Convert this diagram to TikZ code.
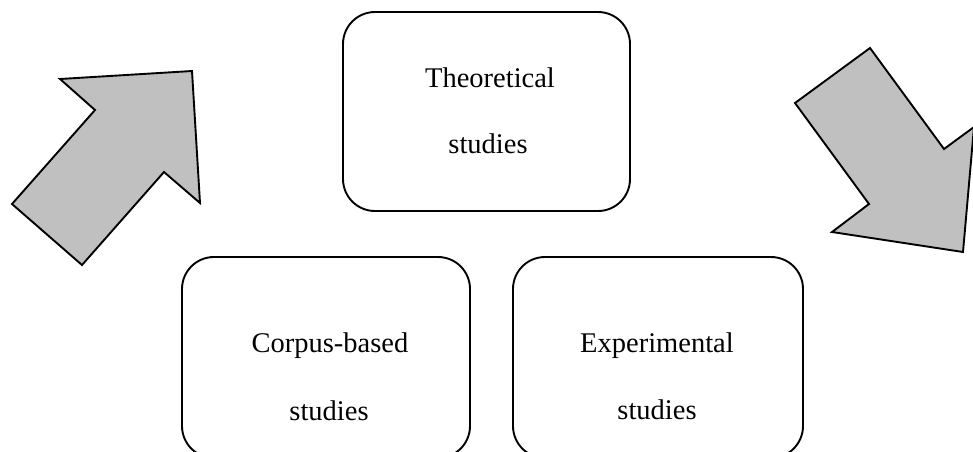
\documentclass[tikz,border=0pt]{standalone}
\usepackage{fontspec}
\setmainfont{Liberation Serif}
\begin{document}
\begin{tikzpicture}[x=1pt,y=-1pt,
  box/.style={draw=black,line width=1.9pt,rounded corners=32pt,fill=none},
  label/.style={font=\fontsize{28.5}{30}\selectfont,anchor=base,inner sep=0pt},
  bigarrow/.style={draw=black,line width=1.9pt,fill=arrowgray,line join=miter}]
\definecolor{arrowgray}{RGB}{192,192,192}
\useasboundingbox (0,0) rectangle (973,451);
\clip (0,0) rectangle (973,451);
% boxes
\draw[box] (343,12) rectangle (630,211);
\draw[box] (182,257) rectangle (470,458);
\draw[box] (513,257) rectangle (803,458);
% labels
\node[label] (t1) at (490,87) {Theoretical};
\node[label] (t2) at (488,153) {studies};
\node[label] (c1) at (330,352) {Corpus-based};
\node[label] (c2) at (329,420) {studies};
\node[label] (e1) at (657,352) {Experimental};
\node[label] (e2) at (657,419) {studies};
% arrows
\draw[bigarrow] (12,204) -- (95,110) -- (60,79) -- (192,71) -- (200,203) -- (164,172) -- (82,265) -- cycle;
\draw[bigarrow] (870,48) -- (944,149) -- (974,127) -- (963,252) -- (832,232) -- (869,204) -- (795,103) -- cycle;
\end{tikzpicture}
\end{document}
